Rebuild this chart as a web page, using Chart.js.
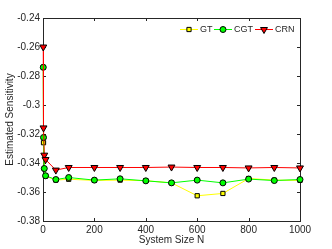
<!DOCTYPE html>
<html>
<head>
<meta charset="utf-8">
<script src="https://cdn.jsdelivr.net/npm/chart.js@4"></script>
<style>
  html, body { margin: 0; padding: 0; background: #fff; }
  #wrap { width: 332px; height: 249px; }
</style>
</head>
<body>
<div id="wrap"><canvas id="sensChart" width="332" height="249"></canvas></div>
<script>
// System size N (x values)
const sizes = [1, 2, 5, 10, 50, 100, 200, 300, 400, 500, 600, 700, 800, 900, 1000];

// Estimated sensitivity per method
const gtVals  = [-0.274, -0.326, -0.344, -0.349, -0.3518, -0.3512, -0.352, -0.3518, -0.3522, -0.3537, -0.3626, -0.3610, -0.3507, -0.3518, -0.3520];
const cgtVals = [-0.274, -0.3224, -0.3438, -0.3488, -0.3514, -0.3500, -0.3518, -0.3509, -0.3523, -0.3537, -0.3518, -0.3537, -0.3511, -0.3521, -0.3514];
const crnVals = [-0.260, -0.3158, -0.3346, -0.3376, -0.3449, -0.3431, -0.3431, -0.3431, -0.3431, -0.3428, -0.3431, -0.3431, -0.3434, -0.3431, -0.3434];

const xTicks = [0, 200, 400, 600, 800, 1000];
const yTicks = [-0.38, -0.36, -0.34, -0.32, -0.3, -0.28, -0.26, -0.24];

const axisColor = '#262626';
const fontFamily = '"Liberation Sans", Arial, Helvetica, sans-serif';

function toPoints(vals) {
    return sizes.map((n, i) => ({ x: n, y: vals[i] }));
}

// Draws the box round the plot with inward ticks
const boxPlugin = {
    id: 'boxPlugin',
    beforeDatasetsDraw(chart) {
        const { ctx, chartArea: a, scales } = chart;
        ctx.save();
        ctx.strokeStyle = axisColor;
        ctx.lineWidth = 1;
        ctx.strokeRect(Math.round(a.left) + 0.5, Math.round(a.top) + 0.5,
            Math.round(a.right - a.left), Math.round(a.bottom - a.top));
        const len = 3;
        ctx.beginPath();
        xTicks.forEach(v => {
            const px = Math.round(scales.x.getPixelForValue(v)) + 0.5;
            ctx.moveTo(px, a.bottom); ctx.lineTo(px, a.bottom - len);
            ctx.moveTo(px, a.top); ctx.lineTo(px, a.top + len);
        });
        yTicks.forEach(v => {
            const py = Math.round(scales.y.getPixelForValue(v)) + 0.5;
            ctx.moveTo(a.left, py); ctx.lineTo(a.left + len, py);
            ctx.moveTo(a.right, py); ctx.lineTo(a.right - len, py);
        });
        ctx.stroke();
        ctx.restore();
    }
};

// Legend inside the plot: line sample + marker + label
const insideLegend = {
    id: 'insideLegend',
    afterDraw(chart) {
        const { ctx } = chart;
        const y = 29;
        const starts = [180, 214, 255];
        ctx.save();
        ctx.font = '9px ' + fontFamily;
        ctx.textBaseline = 'middle';
        chart.data.datasets.forEach((ds, i) => {
            const s = starts[i];
            ctx.strokeStyle = ds.borderColor;
            ctx.lineWidth = 1;
            ctx.beginPath();
            ctx.moveTo(s, y + 0.5); ctx.lineTo(s + 18, y + 0.5);
            ctx.stroke();
            ctx.fillStyle = ds.pointBackgroundColor;
            ctx.strokeStyle = ds.pointBorderColor;
            ctx.lineWidth = ds.pointBorderWidth;
            Chart.helpers.drawPoint(ctx, {
                pointStyle: ds.pointStyle,
                rotation: ds.pointRotation || 0,
                radius: ds.pointRadius,
                borderWidth: ds.pointBorderWidth
            }, s + 9, y + 0.5);
            ctx.fillStyle = axisColor;
            ctx.fillText(ds.label, s + 20, y + 1);
        });
        ctx.restore();
    }
};

const ctx = document.getElementById('sensChart').getContext('2d');
new Chart(ctx, {
    type: 'line',
    data: {
        datasets: [
            {
                label: 'GT',
                data: toPoints(gtVals),
                borderColor: '#ffff00',
                borderWidth: 1,
                pointStyle: 'rect',
                pointRadius: 3,
                pointBackgroundColor: '#ffff00',
                pointBorderColor: '#000',
                pointBorderWidth: 1,
                order: 3
            },
            {
                label: 'CGT',
                data: toPoints(cgtVals),
                borderColor: '#00ff00',
                borderWidth: 1,
                pointStyle: 'circle',
                pointRadius: 3,
                pointBackgroundColor: '#00ff00',
                pointBorderColor: '#000',
                pointBorderWidth: 1,
                order: 2
            },
            {
                label: 'CRN',
                data: toPoints(crnVals),
                borderColor: '#ff0000',
                borderWidth: 1,
                pointStyle: 'triangle',
                pointRotation: 180,
                pointRadius: 4,
                pointBackgroundColor: '#ff0000',
                pointBorderColor: '#000',
                pointBorderWidth: 1,
                order: 1
            }
        ]
    },
    options: {
        responsive: false,
        animation: false,
        clip: false,
        layout: { padding: { top: 18, right: 32, left: 0, bottom: 0 } },
        plugins: {
            legend: { display: false },
            tooltip: { enabled: false }
        },
        scales: {
            x: {
                type: 'linear',
                min: 0,
                max: 1000,
                afterFit: s => { s.height = 28; },
                afterBuildTicks: s => { s.ticks = xTicks.map(v => ({ value: v })); },
                grid: { display: false, drawTicks: false },
                border: { display: false },
                ticks: {
                    padding: 3,
                    color: axisColor,
                    font: { family: fontFamily, size: 10 },
                    maxRotation: 0,
                    callback: v => String(v)
                },
                title: {
                    display: true,
                    text: 'System Size N',
                    color: axisColor,
                    font: { family: fontFamily, size: 10 },
                    padding: { top: 0, bottom: 3 }
                }
            },
            y: {
                type: 'linear',
                min: -0.38,
                max: -0.24,
                afterFit: s => { s.width = 43; },
                afterBuildTicks: s => { s.ticks = yTicks.map(v => ({ value: v })); },
                grid: { display: false, drawTicks: false },
                border: { display: false },
                ticks: {
                    padding: 3,
                    color: axisColor,
                    font: { family: fontFamily, size: 10 },
                    callback: v => String(+v.toFixed(2))
                },
                title: {
                    display: true,
                    text: 'Estimated Sensitivity',
                    color: axisColor,
                    font: { family: fontFamily, size: 10 },
                    padding: { top: 4, bottom: 0 }
                }
            }
        }
    },
    plugins: [boxPlugin, insideLegend]
});
</script>
</body>
</html>
